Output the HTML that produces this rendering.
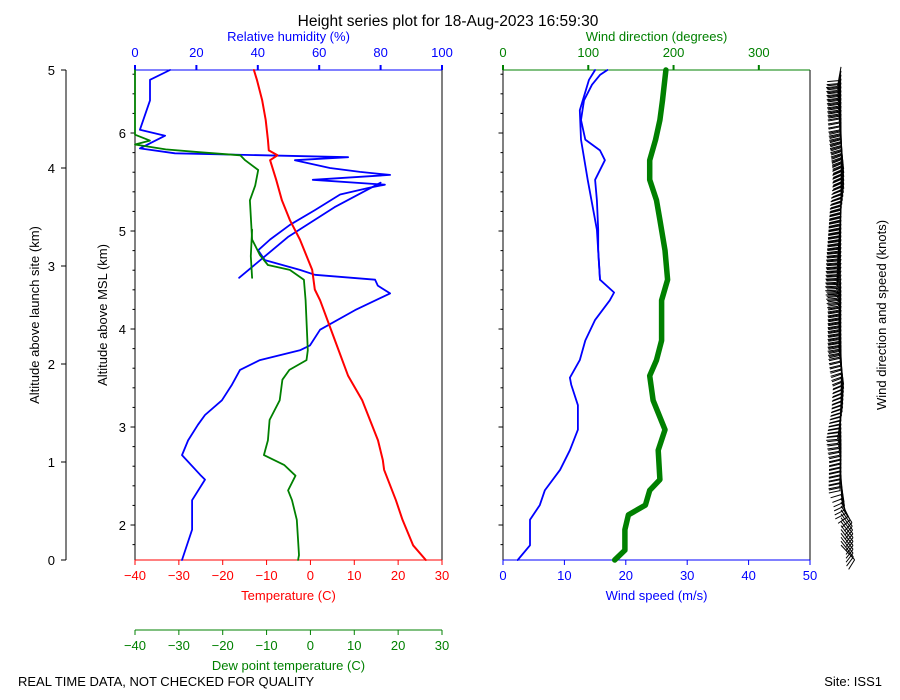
<!DOCTYPE html>
<html><head><meta charset="utf-8"><style>
body{margin:0;background:#fff;}
svg{display:block;font-family:"Liberation Sans","DejaVu Sans",sans-serif;}
</style></head><body>
<svg id="chart" width="900" height="700" viewBox="0 0 900 700">
<text x="448" y="26" font-size="15.5" text-anchor="middle">Height series plot for 18-Aug-2023 16:59:30</text>
<text x="18" y="686" font-size="13">REAL TIME DATA, NOT CHECKED FOR QUALITY</text>
<text x="882" y="686" font-size="13" text-anchor="end">Site: ISS1</text>
<g id="g"></g>
</svg>
<script>
// ---- data (launch altitude km, value) ----
const tempAlt=[0,0.15,0.41,0.61,0.92,1.02,1.22,1.63,1.88,2.24,2.65,2.76,2.96,3.27,3.47,3.67,3.88,4.08,4.13,4.18,4.29,4.49,4.69,4.90,5.0];
const tempVal=[26.3,23.4,21.0,19.5,16.8,16.5,15.4,11.8,8.6,5.6,2.2,1.0,0.4,-2.4,-4.7,-6.5,-7.8,-9.2,-7.5,-9.5,-9.7,-10.2,-11.0,-12.2,-12.9];
const dewAlt=[0,0.05,0.41,0.61,0.71,0.86,0.97,1.07,1.22,1.43,1.63,1.84,1.94,2.04,2.14,2.65,2.86,2.96,3.01,3.11,3.27,3.67,3.82,3.98,4.08,4.13,4.16,4.19,4.24,4.28,4.34,5.0];
const dewVal=[-2.8,-2.6,-3.1,-4.2,-5.1,-3.4,-6.0,-10.6,-9.7,-9.3,-7.0,-6.4,-4.8,-0.9,-0.6,-1.1,-1.5,-4.7,-9.7,-11.5,-13.3,-13.8,-12.6,-11.9,-14.9,-16,-25,-33,-40,-36.6,-40,-40];
const dew2Alt=[2.88,3.1,3.37];
const dew2Val=[-13.3,-13.6,-13.3];
const rhAlt=[0,0.31,0.61,0.82,0.87,1.07,1.22,1.38,1.48,1.63,1.79,1.94,2.04,2.14,2.19,2.35,2.55,2.72,2.8,2.86,2.91,2.96,3.06,3.16,3.27,3.42,3.57,3.73,3.80,3.83,3.88,3.93,3.96,4.0,4.08,4.11,4.15,4.2,4.33,4.39,4.69,4.9,5.0];
const rhVal=[15.3,18.6,18.6,22.8,21.2,15.3,17.3,20.5,22.8,28.3,31.6,34.2,40.7,53.7,57,60.3,71.7,83.1,79.1,78.2,58.6,53.7,42.3,40.1,44,50.5,58.6,66.8,76.5,81.4,57.9,83.1,73.3,63.5,52.1,69.4,13,1.6,9.8,1.6,4.9,4.9,11.4];
const rh2Alt=[2.88,3.3,3.6,3.85];
const rh2Val=[33.9,50,65,80];
const spdAlt=[0,0.15,0.41,0.56,0.71,0.92,1.12,1.33,1.58,1.79,1.86,2.04,2.24,2.45,2.65,2.73,2.86,3.16,3.37,3.67,3.88,4.08,4.18,4.29,4.49,4.69,4.85,4.95,5.0];
const spdVal=[2.4,4.4,4.4,6.0,6.8,9.3,10.9,12.2,12.2,11.1,10.9,12.5,13.4,15.0,17.4,18.1,15.8,15.5,15.5,15.3,15.0,16.6,15.8,13.4,12.7,13.2,14.5,15.8,17.0];
const spd2Alt=[2.86,3.37,3.88,4.29,4.59,4.9,5.0];
const spd2Val=[15.8,15.3,13.8,12.7,12.5,14.0,15.0];
const dirAlt=[0,0.1,0.31,0.46,0.56,0.71,0.82,1.12,1.33,1.63,1.88,2.04,2.24,2.45,2.65,2.86,3.16,3.47,3.67,3.88,4.08,4.29,4.49,4.69,5.0];
const dirVal=[131,143,143,147,167,172,184,182,190,176,172,180,186,186,186,193,190,184,180,172,172,179,184,187,191];
const tempTicks=[-40,-30,-20,-10,0,10,20,30];
const rhTicks=[0,20,40,60,80,100];
const spdTicks=[0,10,20,30,40,50];
const dirTicks=[0,100,200,300];
const altTicks=[0,1,2,3,4,5];
const mslTicks=[2,3,4,5,6];
const MSL_OFFSET=1.643;

const NS='http://www.w3.org/2000/svg';
const G=document.getElementById('g');
function el(tag,attrs,parent){const e=document.createElementNS(NS,tag);for(const k in attrs)e.setAttribute(k,attrs[k]);(parent||G).appendChild(e);return e;}
function txt(x,y,s,attrs){const e=el('text',Object.assign({x:x,y:y,'font-size':13,'text-anchor':'middle'},attrs||{}));e.textContent=s;return e;}
const Y=a=>560-a*98;
const XT=v=>135+(v+40)*307/70;
const XRH=v=>135+v*3.07;
const XS=v=>503+v*6.14;
const XD=v=>503+v*307/360;
function pathOf(alts,vals,xf){return alts.map((a,i)=>(i?'L':'M')+xf(vals[i]).toFixed(1)+','+Y(a).toFixed(1)).join('');}

// outer altitude axis
let l=el('line',{x1:66,y1:70,x2:66,y2:560,stroke:'#000'});


altTicks.forEach(t=>{el('line',{x1:61,x2:66,y1:Y(t),y2:Y(t),stroke:'#000'});
 let tt=txt(55,Y(t)+5,String(t),{'text-anchor':'end'});
 
 });
let at=txt(0,0,'Altitude above launch site (km)',{transform:'translate(39,315) rotate(-90)'});



// panel frames
function panelFrame(x0,topColor,botColor){
 el('line',{x1:x0,y1:70,x2:x0,y2:560,stroke:'#000'});
 el('line',{x1:x0+307,y1:70,x2:x0+307,y2:560,stroke:'#000'});
 el('line',{x1:x0,y1:70,x2:x0+307,y2:70,stroke:topColor});
 el('line',{x1:x0,y1:560,x2:x0+307,y2:560,stroke:botColor});
 for(let m=1.6;m<=6.7;m+=0.2){const a=m-MSL_OFFSET;if(a<-0.001||a>5.001)continue;
  const major=Math.abs(m-Math.round(m))<0.01;
  el('line',{x1:x0-(major?4.5:2.5),x2:x0,y1:Y(a),y2:Y(a),stroke:'#000'});}
}
panelFrame(135,'#0000ff','#ff0000');
panelFrame(503,'#008000','#0000ff');
mslTicks.forEach(t=>{let tt=txt(126,Y(t-MSL_OFFSET)+5,String(t),{'text-anchor':'end'});
 
 });
let mt=txt(0,0,'Altitude above MSL (km)',{transform:'translate(107,315) rotate(-90)'});



// temperature axis
tempTicks.forEach(t=>{const x=XT(t);el('line',{x1:x,x2:x,y1:560,y2:565,stroke:'#ff0000'});
 let tt=txt(x,580,String(t).replace('-','\u2212'),{fill:'#ff0000'});
 
 });
let tT=txt(288.5,600,'Temperature (C)',{fill:'#ff0000'});


// dew point axis
el('line',{x1:135,x2:442,y1:630,y2:630,stroke:'#008000'});
tempTicks.forEach(t=>{const x=XT(t);el('line',{x1:x,x2:x,y1:630,y2:635,stroke:'#008000'});
 let tt=txt(x,650,String(t).replace('-','\u2212'),{fill:'#008000'});
 
 });
let dT=txt(288.5,670,'Dew point temperature (C)',{fill:'#008000'});


// RH axis
rhTicks.forEach(t=>{const x=XRH(t);el('line',{x1:x,x2:x,y1:65,y2:70,stroke:'#0000ff','stroke-width':2});
 let tt=txt(x,57,String(t),{fill:'#0000ff'});
 
 });
let rT=txt(288.5,41,'Relative humidity (%)',{fill:'#0000ff'});


// wind speed axis
spdTicks.forEach(t=>{const x=XS(t);el('line',{x1:x,x2:x,y1:560,y2:565,stroke:'#0000ff'});
 let tt=txt(x,580,String(t),{fill:'#0000ff'});
 
 });
let sT=txt(656.5,600,'Wind speed (m/s)',{fill:'#0000ff'});


// wind dir axis
dirTicks.forEach(t=>{const x=XD(t);el('line',{x1:x,x2:x,y1:65,y2:70,stroke:'#008000','stroke-width':2});
 let tt=txt(x,57,String(t),{fill:'#008000'});
 
 });
let wT=txt(656.5,41,'Wind direction (degrees)',{fill:'#008000'});


let bT=txt(0,0,'Wind direction and speed (knots)',{transform:'translate(886,315) rotate(-90)'});



// series
function series(alts,vals,xf,color,w,name){
 const p=el('path',{d:pathOf(alts,vals,xf),fill:'none',stroke:color,'stroke-width':w,'stroke-linejoin':'round','stroke-linecap':'round'});
 
 
}
series(rhAlt,rhVal,XRH,'#0000ff',1.8,'rh-line');
series(rh2Alt,rh2Val,XRH,'#0000ff',1.8,'rh-line-branch');
series(dewAlt,dewVal,XT,'#008000',1.8,'dewpoint-line');
series(dew2Alt,dew2Val,XT,'#008000',1.8,'dewpoint-line-branch');
series(tempAlt,tempVal,XT,'#ff0000',2,'temperature-line');
series(dirAlt,dirVal,XD,'#008000',5.5,'wind-direction-line');
series(spdAlt,spdVal,XS,'#0000ff',1.8,'wind-speed-line');
series(spd2Alt,spd2Val,XS,'#0000ff',1.8,'wind-speed-line-branch');

// wind barbs
function interp(alts,vals,a){for(let i=1;i<alts.length;i++){if(a<=alts[i]){const f=(a-alts[i-1])/(alts[i]-alts[i-1]);return vals[i-1]+f*(vals[i]-vals[i-1]);}}return vals[vals.length-1];}
const bg=el('g',{});


for(let a=0.05;a<=4.95;a+=0.04){
 const d=interp(dirAlt,dirVal,a)*Math.PI/180, s=interp(spdAlt,spdVal,a);
 const bx=841, by=Y(a)-10;
 const ux=Math.sin(d), uy=-Math.cos(d);
 const L=20, ex=bx+ux*L, ey=by+uy*L;
 el('line',{x1:bx,y1:by,x2:ex,y2:ey,stroke:'#000','stroke-width':1},bg);
 const knots=s*1.944; const px=uy, py=-ux;
 let n=Math.round(knots/10);
 for(let k=0;k<Math.min(n,4);k++){const sx=ex-ux*k*3, sy=ey-uy*k*3;
  el('line',{x1:sx,y1:sy,x2:sx-px*11+ux*3,y2:sy-py*11+uy*3,stroke:'#000','stroke-width':1},bg);}
}
</script>
</body></html>
